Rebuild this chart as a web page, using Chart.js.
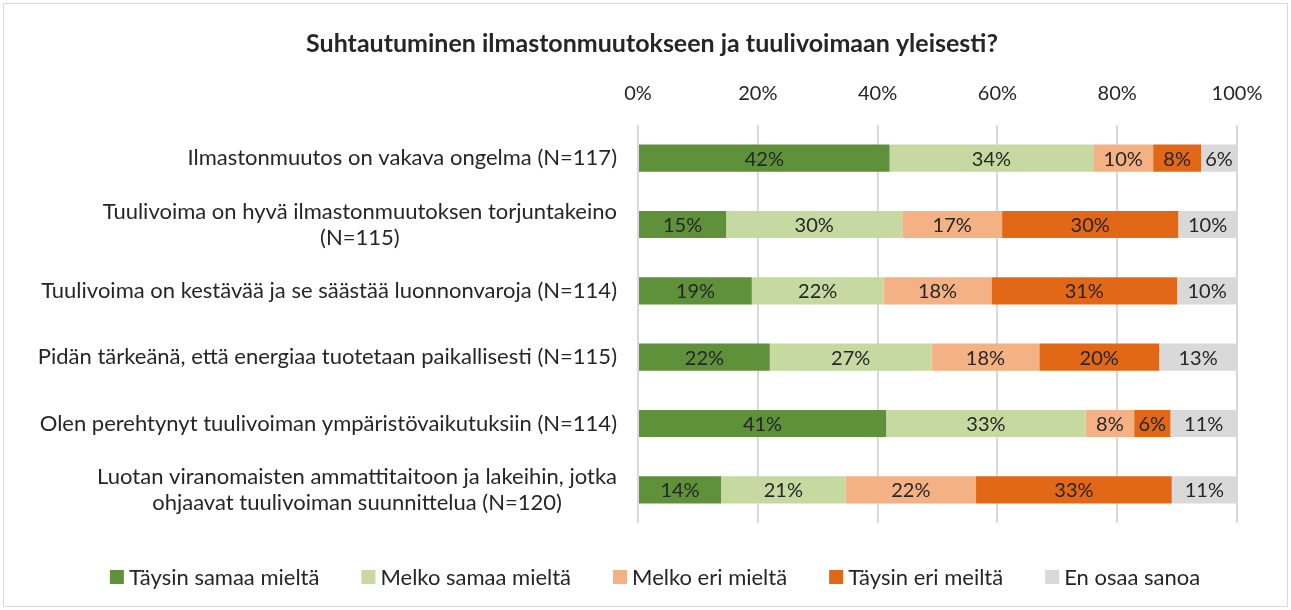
<!DOCTYPE html>
<html lang="fi">
  <head>
    <meta charset="UTF-8" />
    <title>Suhtautuminen ilmastonmuutokseen ja tuulivoimaan</title>
    <script src="https://cdn.jsdelivr.net/npm/chart.js"></script>
    <style>
      body { margin: 0; background: #fff; }
      canvas { display: block; }
    </style>
  </head>
  <body>
    <canvas id="chart" width="1291" height="610"></canvas>

    <script>
      // categories (rows), top to bottom
      const categories = [
        ["Ilmastonmuutos on vakava ongelma (N=117)"],
        ["Tuulivoima on hyvä ilmastonmuutoksen torjuntakeino", "(N=115)"],
        ["Tuulivoima on kestävää ja se säästää luonnonvaroja (N=114)"],
        ["Pidän tärkeänä, että energiaa tuotetaan paikallisesti (N=115)"],
        ["Olen perehtynyt tuulivoiman ympäristövaikutuksiin (N=114)"],
        ["Luotan viranomaisten ammattitaitoon ja lakeihin, jotka", "ohjaavat tuulivoiman suunnittelua (N=120)"]
      ];

      const seriesNames = ["Täysin samaa mieltä", "Melko samaa mieltä", "Melko eri mieltä", "Täysin eri meiltä", "En osaa sanoa"];

      // shown percentages
      const taysinSamaa = [42, 15, 19, 22, 41, 14];
      const melkoSamaa = [34, 30, 22, 27, 33, 21];
      const melkoEri = [10, 17, 18, 18, 8, 22];
      const taysinEri = [8, 30, 31, 20, 6, 33];
      const enOsaa = [6, 10, 10, 13, 11, 11];

      const xTicks = [0, 20, 40, 60, 80, 100];

      const colors = ["#5f913b", "#c5d9a0", "#f4b183", "#e26716", "#d9d9d9"];
      const allSeries = [taysinSamaa, melkoSamaa, melkoEri, taysinEri, enOsaa];

      // 100% stacked: scale each row to its total
      const totals = categories.map((_, i) => allSeries.reduce((s, arr) => s + arr[i], 0));

      const FONT = "Lato, 'Open Sans', sans-serif";
      const TEXT = "#262626";

      const frame = {
        id: "frame",
        beforeDraw(chart) {
          const ctx = chart.ctx;
          ctx.save();
          ctx.fillStyle = "#fff";
          ctx.fillRect(0, 0, chart.width, chart.height);
          ctx.strokeStyle = "#d9d9d9";
          ctx.lineWidth = 1;
          ctx.strokeRect(3.5, 3.5, chart.width - 7, chart.height - 7);
          ctx.restore();
        }
      };

      const barLabels = {
        id: "barLabels",
        afterDatasetsDraw(chart) {
          const ctx = chart.ctx;
          ctx.save();
          ctx.font = "20px " + FONT;
          ctx.fillStyle = TEXT;
          ctx.textAlign = "center";
          ctx.textBaseline = "middle";
          chart.data.datasets.forEach((ds, d) => {
            chart.getDatasetMeta(d).data.forEach((bar, i) => {
              ctx.fillText(allSeries[d][i] + "%", (bar.x + bar.base) / 2, bar.y + 1);
            });
          });
          ctx.restore();
        }
      };

      const rowLabels = {
        id: "rowLabels",
        afterDraw(chart) {
          const ctx = chart.ctx;
          const yScale = chart.scales.y;
          const right = 617;
          const lh = 26;
          ctx.save();
          ctx.font = "22px " + FONT;
          ctx.fillStyle = TEXT;
          ctx.textAlign = "center";
          ctx.textBaseline = "middle";
          categories.forEach((lines, i) => {
            const y = yScale.getPixelForValue(i);
            const w = Math.max(...lines.map(l => ctx.measureText(l).width));
            const cx = right - w / 2;
            lines.forEach((l, k) => {
              ctx.fillText(l, cx, y + (k - (lines.length - 1) / 2) * lh);
            });
          });
          ctx.restore();
        }
      };

      const legendRow = {
        id: "legendRow",
        afterDraw(chart) {
          const ctx = chart.ctx;
          const box = 14, gap = 5, between = 42, y = 577;
          ctx.save();
          ctx.font = "22px " + FONT;
          ctx.textBaseline = "middle";
          ctx.textAlign = "left";
          const widths = seriesNames.map(n => box + gap + ctx.measureText(n).width);
          const total = widths.reduce((a, b) => a + b, 0) + between * (widths.length - 1);
          let x = 655 - total / 2;
          seriesNames.forEach((n, d) => {
            ctx.fillStyle = colors[d];
            ctx.fillRect(x, y - box / 2, box, box);
            ctx.fillStyle = TEXT;
            ctx.fillText(n, x + box + gap, y + 1);
            x += widths[d] + between;
          });
          ctx.restore();
        }
      };

      new Chart(document.getElementById("chart"), {
        type: "bar",
        data: {
          labels: categories.map(c => c.join(" ")),
          datasets: allSeries.map((arr, d) => ({
            label: seriesNames[d],
            data: arr.map((v, i) => v / totals[i] * 100),
            backgroundColor: colors[d],
            borderWidth: 0,
            barPercentage: 0.41,
            categoryPercentage: 1
          }))
        },
        options: {
          indexAxis: "y",
          responsive: false,
          animation: false,
          layout: { padding: { left: 67, right: 54, top: 0, bottom: 87 } },
          scales: {
            x: {
              position: "top",
              stacked: true,
              min: 0,
              max: 100,
              afterBuildTicks(axis) {
                axis.ticks = xTicks.map(v => ({ value: v }));
              },
              ticks: {
                callback: v => v + "%",
                font: { family: FONT, size: 20 },
                color: TEXT,
                padding: 19
              },
              grid: { color: "#d9d9d9", lineWidth: 2, drawTicks: false },
              border: { display: false }
            },
            y: {
              stacked: true,
              afterFit(axis) { axis.width = 571; },
              ticks: { display: false },
              grid: { display: false },
              border: { display: false }
            }
          },
          plugins: {
            title: {
              display: true,
              text: "Suhtautuminen ilmastonmuutokseen ja tuulivoimaan yleisesti?",
              font: { family: FONT, size: 25, weight: "bold" },
              color: TEXT,
              padding: { top: 29, bottom: 4 }
            },
            legend: { display: false },
            tooltip: { enabled: false }
          }
        },
        plugins: [frame, barLabels, rowLabels, legendRow]
      });
    </script>
  </body>
</html>
